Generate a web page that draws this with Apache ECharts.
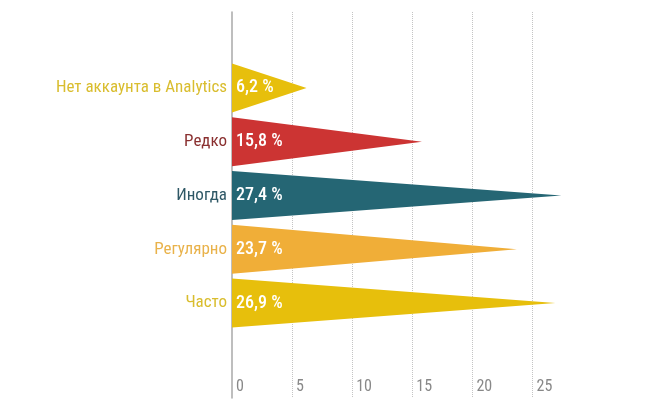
<!DOCTYPE html>
<html><head><meta charset="utf-8">
<script src="https://cdn.jsdelivr.net/npm/echarts@6/dist/echarts.min.js"></script>
<style>html,body{margin:0;padding:0;background:#fff}#c{width:657px;height:413px}</style>
</head><body><div id="c"></div>
<script>
var categories = ['Нет аккаунта в Analytics', 'Редко', 'Иногда', 'Регулярно', 'Часто'];
var values = [6.2, 15.8, 27.4, 23.7, 26.9];
var barColors = ['#e7bf0c', '#cc3433', '#256674', '#f0ae38', '#e7bf0c'];
var labelColors = ['#d9bd2e', '#8a3030', '#2f5866', '#e9b24a', '#d9bd2e'];
var xTicks = [0, 5, 10, 15, 20, 25];

var FONT = '"Roboto Condensed", "DejaVu Sans Condensed", sans-serif';
var chart = echarts.init(document.getElementById('c'), null, {renderer: 'canvas'});
var LEFT = 232, XMAX = 27.4, PXU = 12.02;
var WIDTH = XMAX * PXU;

chart.setOption({
  animation: false,
  grid: [
    {left: LEFT, top: 12, width: WIDTH, height: 386},
    {left: LEFT, top: 61, width: WIDTH, height: 269}
  ],
  xAxis: [
    {gridIndex: 0, type: 'value', min: 0, max: XMAX, interval: 5,
     axisLine: {show: false}, axisTick: {show: false},
     axisLabel: {inside: true, margin: 3, align: 'left', padding: [0, 0, 0, 4],
       color: '#888', fontFamily: FONT, fontSize: 16, showMaxLabel: false,
       formatter: function (v) { return xTicks.indexOf(v) >= 0 ? String(v) : ''; }},
     splitLine: {show: true, showMinLine: false, showMaxLine: false,
       lineStyle: {type: 'dotted', color: '#c4c4c4', width: 1}}},
    {gridIndex: 1, type: 'value', min: 0, max: XMAX, show: false}
  ],
  yAxis: [
    {gridIndex: 0, type: 'value', min: 0, max: 1, axisLabel: {show: false},
     axisTick: {show: false}, splitLine: {show: false},
     axisLine: {show: true, lineStyle: {color: '#a8a8a8', width: 1.5}}},
    {gridIndex: 1, type: 'category', data: categories, inverse: true,
     axisLine: {show: false}, axisTick: {show: false}, splitLine: {show: false},
     axisLabel: {margin: 5, fontFamily: FONT, fontSize: 17,
       color: function (v, i) { return labelColors[i]; }}}
  ],
  series: [{
    type: 'pictorialBar',
    xAxisIndex: 1, yAxisIndex: 1,
    symbol: 'path://M0,0 L1,0.5 L0,1 Z',
    symbolSize: ['100%', 49],
    symbolPosition: 'start',
    data: values.map(function (v, i) {
      return {value: v, itemStyle: {color: barColors[i]}};
    }),
    label: {show: true, position: 'insideLeft', offset: [-1, 0], color: '#fff',
      fontFamily: FONT, fontSize: 18, fontWeight: 500,
      formatter: function (p) { return String(p.value).replace('.', ',') + ' %'; }}
  }]
});
</script></body></html>
